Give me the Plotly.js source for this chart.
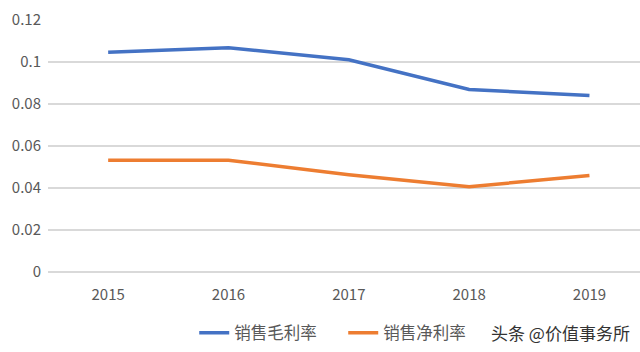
<!DOCTYPE html>
<html>
<head>
<meta charset="utf-8">
<script src="https://cdn.plot.ly/plotly-3.0.1.min.js"></script>
<style>html,body{margin:0;padding:0;background:#fff;}#chart{width:640px;height:352px;}</style>
</head>
<body>
<div id="chart"></div>
<script>
const years = ['2015', '2016', '2017', '2018', '2019'];
const grossMargin = [0.1047, 0.1068, 0.1011, 0.0869, 0.0840];
const netMargin = [0.0532, 0.0532, 0.0463, 0.0406, 0.0460];
const yTickVals = [0, 0.02, 0.04, 0.06, 0.08, 0.1, 0.12];
const yTickText = ['0', '0.02', '0.04', '0.06', '0.08', '0.1', '0.12'];
const seriesNames = ['销售毛利率', '销售净利率'];
const watermark = '头条 @价值事务所';

const font = '"Noto Sans CJK SC", "Noto Sans", sans-serif';
const traces = [
  {x: years, y: grossMargin, name: seriesNames[0], type: 'scatter', mode: 'lines',
   line: {color: '#4472C4', width: 3.5}},
  {x: years, y: netMargin, name: seriesNames[1], type: 'scatter', mode: 'lines',
   line: {color: '#ED7D31', width: 3.5}}
];
const layout = {
  width: 640, height: 352,
  margin: {l: 48, r: 0, t: 20, b: 80},
  paper_bgcolor: '#fff', plot_bgcolor: '#fff',
  font: {family: font, size: 15, color: '#595959'},
  showlegend: true,
  legend: {orientation: 'h', x: 0.247, xanchor: 'left', y: -0.242, yanchor: 'middle',
           font: {family: font, size: 16.5, color: '#595959'}, entrywidth: 104, entrywidthmode: 'pixels',
           tracegroupgap: 0},
  xaxis: {type: 'category', range: [-0.5, 4.42], showgrid: false, zeroline: false,
          showline: false, ticks: '', tickfont: {size: 15, color: '#595959'}, ticklabelstandoff: 12},
  yaxis: {range: [0, 0.12], tickvals: yTickVals, ticktext: yTickText, showgrid: true,
          gridcolor: '#d9d9d9', gridwidth: 1.3, zeroline: true, zerolinecolor: '#d9d9d9', zerolinewidth: 1.3,
          showline: false, ticks: '', tickfont: {size: 15, color: '#595959'}, ticklabelstandoff: 6},
  annotations: [{text: watermark, xref: 'paper', yref: 'paper', x: 1.0, y: -0.242,
                 xanchor: 'right', yanchor: 'middle', showarrow: false, xshift: -8,
                 font: {family: font, size: 17, color: '#333333'}}]
};
Plotly.newPlot('chart', traces, layout, {displayModeBar: false, staticPlot: true});
</script>
</body>
</html>
